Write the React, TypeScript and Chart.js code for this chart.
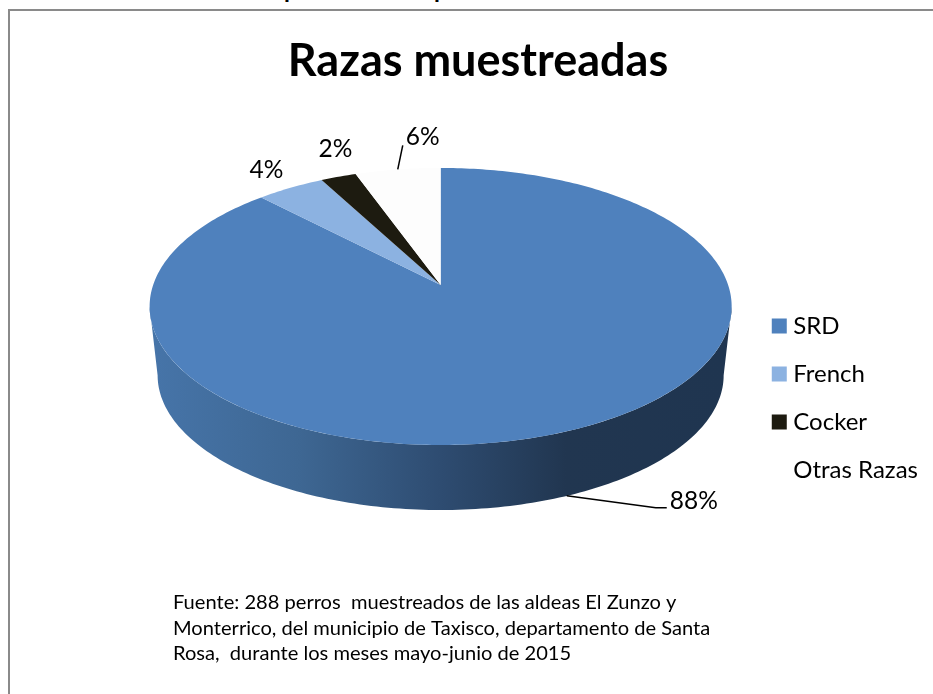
import React, { useEffect, useRef } from "react";
import { Chart, registerables } from "chart.js";

Chart.register(...registerables);

const chartTitle = "Razas muestreadas";
const categories = ["SRD", "French", "Cocker", "Otras Razas"];
const shares = [87.8, 4.4, 2.3, 5.5];
const sliceColors = ["#4F81BD", "#8CB2E1", "#1D1B10", "#FDFDFD"];
const legendColors = ["#4F81BD", "#8CB2E1", "#1D1B10", "#FFFFFF"];
const noteLines = [
  "Fuente: 288 perros  muestreados de las aldeas El Zunzo y",
  "Monterrico, del municipio de Taxisco, departamento de Santa",
  "Rosa,  durante los meses mayo-junio de 2015",
];

const FONT = "Lato, 'Open Sans', sans-serif";
const SHIFT_X = 50;
const SHIFT_Y = -13;
const PERSPECTIVE = 0.155;
const TOP_RIM = { bx: 287.5, ay: 135.2, dy: 0 };
const BOTTOM_RIM = { bx: 279.6, ay: 131.5, dy: 69.4 };
const LABEL_OFFSET: [number, number][] = [
  [131, 4],
  [-24, -18],
  [-3, -28],
  [25, -32],
];

type Rim = { bx: number; ay: number; dy: number };

function project(cx: number, cy: number, rim: Rim, angle: number): [number, number] {
  const u = Math.cos(angle);
  const v = -Math.sin(angle);
  const d = 1 + PERSPECTIVE * v;
  return [cx + (rim.bx * u) / d, cy + rim.dy - (rim.ay * v) / d];
}

const piePlugin = {
  id: "perspectivePie",
  beforeDatasetDraw(chart: any, args: any) {
    const { ctx } = chart;
    const arcs = chart.getDatasetMeta(args.index).data;
    const cx = arcs[0].x + SHIFT_X;
    const cy = arcs[0].y + SHIFT_Y;
    const tangent = Math.asin(PERSPECTIVE);
    const rimStart = -tangent + Math.PI;
    const rimEnd = tangent;
    const n = 160;
    ctx.save();
    const g = ctx.createLinearGradient(cx - 285, 0, cx + 285, 0);
    g.addColorStop(0, "#4674A8");
    g.addColorStop(0.25, "#3E6793");
    g.addColorStop(0.5, "#2E4C71");
    g.addColorStop(0.72, "#213650");
    g.addColorStop(1, "#1F3550");
    ctx.fillStyle = g;
    ctx.beginPath();
    for (let i = 0; i <= n; i++) {
      const a = rimEnd + ((rimStart - rimEnd) * i) / n;
      const p = project(cx, cy, TOP_RIM, a);
      if (i === 0) ctx.moveTo(p[0], p[1]);
      else ctx.lineTo(p[0], p[1]);
    }
    for (let i = n; i >= 0; i--) {
      const a = rimEnd + ((rimStart - rimEnd) * i) / n;
      const p = project(cx, cy, BOTTOM_RIM, a);
      ctx.lineTo(p[0], p[1]);
    }
    ctx.closePath();
    ctx.fill();

    arcs.forEach((arc: any, i: number) => {
      const s = arc.startAngle;
      const e = arc.endAngle;
      const steps = Math.max(4, Math.ceil((e - s) * 60));
      ctx.beginPath();
      ctx.moveTo(cx, cy);
      for (let k = 0; k <= steps; k++) {
        const p = project(cx, cy, TOP_RIM, s + ((e - s) * k) / steps);
        ctx.lineTo(p[0], p[1]);
      }
      ctx.closePath();
      ctx.fillStyle = sliceColors[i];
      ctx.fill();
    });
    ctx.restore();
    return false;
  },
  afterDatasetsDraw(chart: any) {
    const { ctx } = chart;
    const arcs = chart.getDatasetMeta(0).data;
    const cx = arcs[0].x + SHIFT_X;
    const cy = arcs[0].y + SHIFT_Y;
    ctx.save();
    ctx.font = `24.5px ${FONT}`;
    ctx.fillStyle = "#000";
    ctx.strokeStyle = "#000";
    ctx.lineWidth = 1.5;
    ctx.textAlign = "center";
    ctx.textBaseline = "middle";
    arcs.forEach((arc: any, i: number) => {
      const mid = (arc.startAngle + arc.endAngle) / 2;
      const rim = i === 0 ? BOTTOM_RIM : TOP_RIM;
      const p = project(cx, cy, rim, mid);
      const lx = p[0] + LABEL_OFFSET[i][0];
      const ly = p[1] + LABEL_OFFSET[i][1];
      if (i === 0) {
        ctx.beginPath();
        ctx.moveTo(p[0] + 4, p[1] - 1);
        ctx.lineTo(lx - 38, ly + 7);
        ctx.lineTo(lx - 27, ly + 7);
        ctx.stroke();
      } else if (i === 3) {
        ctx.beginPath();
        ctx.moveTo(p[0], p[1]);
        ctx.lineTo(lx - 20, ly + 8);
        ctx.stroke();
      }
      ctx.fillText(`${Math.round(shares[i])}%`, lx, ly);
    });
    ctx.font = `20.1px ${FONT}`;
    ctx.textAlign = "left";
    noteLines.forEach((line, i) => {
      ctx.fillText(line, 163, 592 + i * 25.5);
    });
    ctx.restore();
  },
};

export default function App() {
  const ref = useRef<HTMLCanvasElement | null>(null);
  useEffect(() => {
    const chart = new Chart(ref.current as HTMLCanvasElement, {
      type: "pie",
      data: {
        labels: categories,
        datasets: [{ data: shares, backgroundColor: sliceColors, borderWidth: 0 }],
      },
      options: {
        responsive: false,
        animation: false,
        layout: { padding: { left: 18, right: 0, top: 0, bottom: 188 } },
        plugins: {
          tooltip: { enabled: false },
          title: {
            display: true,
            text: chartTitle,
            color: "#000",
            font: { family: FONT, size: 45, weight: "bold" },
            padding: { top: 23, bottom: 2 },
          },
          legend: {
            position: "right",
            align: "end",
            labels: {
              color: "#000",
              font: { family: FONT, size: 24 },
              boxWidth: 4,
              boxHeight: 4,
              padding: 24,
              generateLabels: (c: any) =>
                c.data.labels.map((text: string, i: number) => ({
                  text,
                  index: i,
                  fillStyle: legendColors[i],
                  strokeStyle: legendColors[i],
                  lineWidth: 11,
                  lineJoin: "miter",
                  hidden: false,
                })),
            },
          },
        },
      },
      plugins: [piePlugin],
    } as any);
    return () => chart.destroy();
  }, []);

  const stub: React.CSSProperties = {
    position: "absolute",
    top: -23,
    font: `bold 24px/24px ${FONT}`,
    color: "#000",
  };
  return (
    <div style={{ position: "fixed", left: 0, top: 0, width: 933, height: 694, overflow: "hidden", background: "#fff" }}>
      <span style={{ ...stub, left: 284 }}>p</span>
      <span style={{ ...stub, left: 434 }}>p</span>
      <div
        style={{
          position: "absolute",
          left: 8,
          top: 9,
          width: 960,
          height: 720,
          borderLeft: "2px solid #8A8A8A",
          borderTop: "2px solid #8A8A8A",
        }}
      />
      <canvas ref={ref} width={918} height={683} style={{ position: "absolute", left: 10, top: 11, display: "block" }} />
    </div>
  );
}
